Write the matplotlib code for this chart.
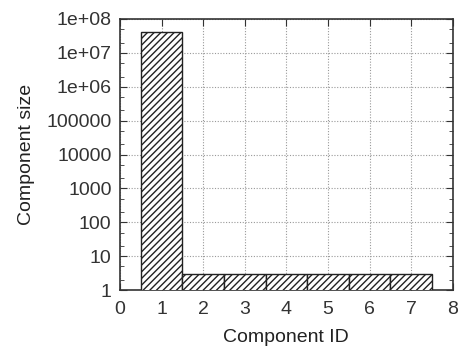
import numpy as np
import matplotlib.pyplot as plt
from matplotlib.ticker import FixedLocator, FixedFormatter, NullFormatter

plt.rcParams['font.family'] = ['Liberation Sans', 'DejaVu Sans']

# === Data ===
component_ids = [1, 2, 3, 4, 5, 6, 7]
component_sizes = [4.2e7, 3, 3, 3, 3, 3, 3]
y_ticks = [1, 10, 100, 1000, 10000, 100000, 1e6, 1e7, 1e8]
y_labels = ["1", "10", "100", "1000", "10000", "100000", "1e+06", "1e+07", "1e+08"]
x_ticks = [0, 1, 2, 3, 4, 5, 6, 7, 8]

fig = plt.figure(figsize=(4.63, 3.5), dpi=100)
ax = fig.add_axes([0.259, 0.171, 0.719, 0.775])

ax.bar(component_ids, component_sizes, width=1.0, color='white',
       edgecolor='#222222', hatch='/////', linewidth=1.0, zorder=3)

ax.set_yscale('log')
ax.set_ylim(1, 1e8)
ax.set_xlim(0, 8)
ax.yaxis.set_major_locator(FixedLocator(y_ticks))
ax.yaxis.set_major_formatter(FixedFormatter(y_labels))
minor = [m * 10.0 ** e for e in range(0, 8) for m in (2, 5)]
ax.yaxis.set_minor_locator(FixedLocator(minor))
ax.yaxis.set_minor_formatter(NullFormatter())
ax.set_xticks(x_ticks)

ax.grid(True, which='major', linestyle=(0, (1, 1.5)), color='#999999', linewidth=0.8, zorder=0)
ax.tick_params(which='both', direction='in', top=True, right=True, labelsize=14, colors='#333333')
ax.tick_params(which='major', length=5)
ax.tick_params(which='minor', length=3)
ax.tick_params(axis='x', pad=8)
ax.tick_params(axis='y', pad=6)
for s in ax.spines.values():
    s.set_linewidth(1.2)
    s.set_color('#333333')

ax.set_xlabel("Component ID", fontsize=14, color='#222222', labelpad=8)
ax.set_ylabel("Component size", fontsize=14, color='#222222', labelpad=8)

fig.savefig("out.png", dpi=100)
